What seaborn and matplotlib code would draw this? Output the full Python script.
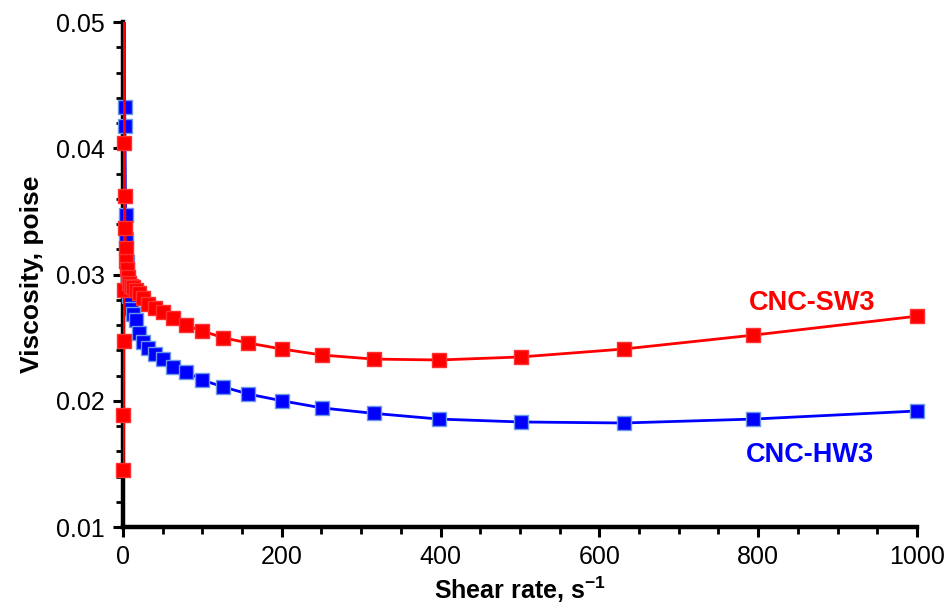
import numpy as np
import pandas as pd
import matplotlib
matplotlib.use("Agg")
import matplotlib.pyplot as plt
from matplotlib.ticker import MultipleLocator, FormatStrFormatter
import seaborn as sns

# shear rate (1/s) and viscosity (poise)
sw3_rate = [0.5, 0.631, 0.794, 1.0, 1.26, 1.58, 2.0, 2.51, 3.16, 3.98, 5.01, 6.31, 7.94,
            10.0, 12.6, 15.8, 20.0, 25.1, 31.6, 39.8, 50.1, 63.1, 79.4,
            100, 126, 158, 200, 251, 316, 398, 501, 631, 794, 1000]
sw3_visc = [0.0145, 0.0189, 0.0247, 0.0288, 0.0580, 0.0404, 0.0362, 0.0337, 0.0321,
            0.0311, 0.0304, 0.0298, 0.0293,
            0.0291, 0.0290, 0.0288, 0.0285, 0.0281, 0.0277, 0.02735, 0.0270, 0.02655, 0.0260,
            0.02552, 0.0250, 0.02457, 0.0241, 0.02362, 0.0233, 0.02323, 0.02347, 0.0241, 0.0252, 0.0267]

hw3_rate = [1.58, 2.0, 2.51, 3.16, 3.98, 5.01, 6.31, 7.94,
            10.0, 12.6, 15.8, 20.0, 25.1, 31.6, 39.8, 50.1, 63.1, 79.4,
            100, 126, 158, 200, 251, 316, 398, 501, 631, 794, 1000]
hw3_visc = [0.0580, 0.0433, 0.0418, 0.0347, 0.0328, 0.0310, 0.0295, 0.0283,
            0.0273, 0.0269, 0.0264, 0.0254, 0.02465, 0.0242, 0.0237, 0.0233, 0.0227, 0.02228,
            0.02164, 0.0211, 0.02053, 0.0200, 0.01943, 0.0190, 0.01855, 0.01832, 0.01824, 0.01855, 0.01919]

sns.set_style("white")
plt.rcParams['font.family'] = ['Liberation Sans', 'DejaVu Sans']
plt.rcParams['text.color'] = 'black'
plt.rcParams['axes.labelcolor'] = 'black'
plt.rcParams['xtick.color'] = 'black'
plt.rcParams['ytick.color'] = 'black'
plt.rcParams['mathtext.fontset'] = 'custom'
plt.rcParams['mathtext.rm'] = 'Liberation Sans:bold'
plt.rcParams['mathtext.bf'] = 'Liberation Sans:bold'
plt.rcParams['mathtext.default'] = 'bf'

YMIN, YMAX = 0.01, 0.05

fig = plt.figure(figsize=(9.52, 6.08), dpi=100)
ax = fig.add_axes([0.1292, 0.1332, 0.834, 0.8306])

series = [
    (pd.DataFrame({'rate': hw3_rate, 'visc': hw3_visc}), '#0000FF', '#6A9AE8', 2),
    (pd.DataFrame({'rate': sw3_rate, 'visc': sw3_visc}), '#FF0000', '#FF3030', 4),
]
for df, col, edge, z in series:
    sns.lineplot(data=df, x='rate', y='visc', ax=ax, sort=False, color=col,
                 linewidth=2.0, zorder=z)
    # markers left unclipped so the ones on the y axis show in full
    shown = df[df['visc'] <= YMAX]
    sns.scatterplot(data=shown, x='rate', y='visc', ax=ax, marker='s', s=100,
                    color=col, edgecolor=edge, linewidth=1.0, zorder=z + 1,
                    clip_on=False, legend=False)

ax.set_xlim(0, 1000)
ax.set_ylim(YMIN, YMAX)
ax.xaxis.set_major_locator(MultipleLocator(200))
ax.xaxis.set_minor_locator(MultipleLocator(50))
ax.yaxis.set_major_locator(MultipleLocator(0.01))
ax.yaxis.set_minor_locator(MultipleLocator(0.002))
ax.yaxis.set_major_formatter(FormatStrFormatter('%.2f'))

ax.tick_params(axis='both', which='major', direction='out', length=7, width=2.2,
               labelsize=18, colors='black', pad=6, bottom=True, left=True)
ax.tick_params(axis='both', which='minor', direction='out', length=5, width=2.0,
               colors='black', bottom=True, left=True)

for s in ['top', 'right']:
    ax.spines[s].set_visible(False)
for s in ['left', 'bottom']:
    ax.spines[s].set_linewidth(3.2)
    ax.spines[s].set_color('black')
    ax.spines[s].set_zorder(1)

ax.set_xlabel(r'Shear rate, s$^{-1}$', fontsize=18, fontweight='bold', labelpad=4, color='black')
ax.set_ylabel('Viscosity, poise', fontsize=19, fontweight='bold', labelpad=9, color='black')

ax.text(868, 0.02774, 'CNC-SW3', color='#FF0000', fontsize=19.5, fontweight='bold',
        ha='center', va='center')
ax.text(865, 0.0157, 'CNC-HW3', color='#0000FF', fontsize=19.5, fontweight='bold',
        ha='center', va='center')

fig.savefig('out.png', dpi=100)
